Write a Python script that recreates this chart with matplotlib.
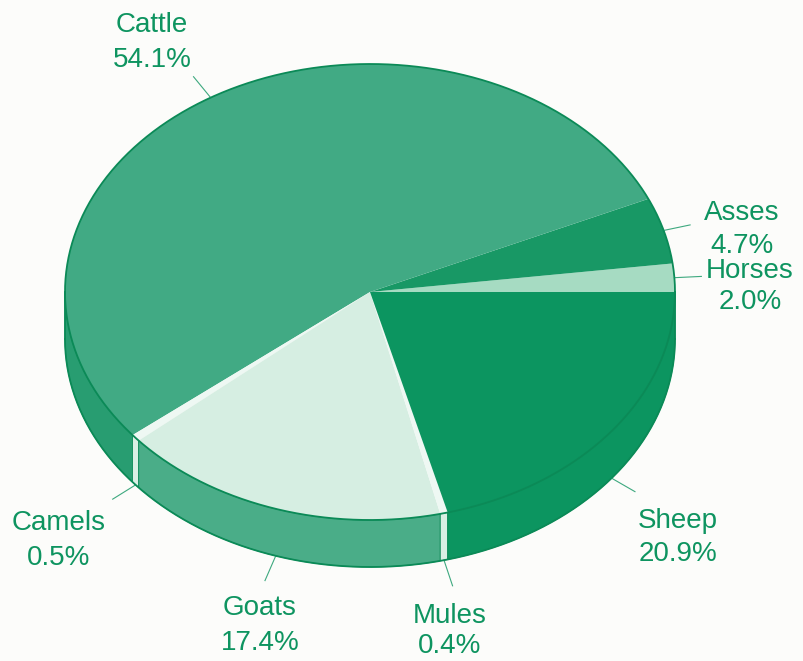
import numpy as np
import matplotlib.pyplot as plt
from matplotlib.patches import Polygon

# ---- data (counter-clockwise from 3 o'clock) ----
labels = ["Horses", "Asses", "Cattle", "Camels", "Goats", "Mules", "Sheep"]
shares = [2.0, 4.7, 54.1, 0.5, 17.4, 0.4, 20.9]

# ---- styles ----
top_colors = {"Horses": "#a6dbc2", "Asses": "#189865", "Cattle": "#41aa84",
              "Camels": "#eef8f3", "Goats": "#d6eee2", "Mules": "#eef8f3",
              "Sheep": "#0c9560"}
side_colors = {"Horses": "#8ccfb1", "Asses": "#168f5e", "Cattle": "#289d71",
               "Camels": "#d9efe4", "Goats": "#4aad88", "Mules": "#d9efe4",
               "Sheep": "#0c9560"}
GREEN = "#0e9460"
LINE = "#0b8a57"

# ---- layout (pixels) ----
W, H = 804, 661
CX, CY, RX, RY, DEPTH = 370, 292, 305, 228, 47
LEAD = 27
# label layout: centre x, baseline of name, baseline of percentage
label_pos = {"Cattle": (152, 32, 67), "Asses": (742, 220, 253),
             "Horses": (750, 278, 309), "Sheep": (678, 528, 561),
             "Mules": (450, 623, 653), "Goats": (260, 615, 650),
             "Camels": (59, 530, 565)}

fig = plt.figure(figsize=(W / 100, H / 100), dpi=100)
fig.patch.set_facecolor("#fcfcfa")
ax = fig.add_axes([0, 0, 1, 1])
ax.set_xlim(-CX / RX, (W - CX) / RX)
ax.set_ylim(-(H - CY) / RX, CY / RX)
ax.axis("off")

tilt = RY / RX
depth = DEPTH / RX


def px(x, y):
    return (x - CX) / RX, (CY - y) / RX


def arc(a0, a1, dy=0.0, n=200):
    t = np.radians(np.linspace(a0, a1, n))
    return np.column_stack([np.cos(t), tilt * np.sin(t) + dy])


edges = np.concatenate([[0], np.cumsum(shares)]) / sum(shares) * 360.0

# side walls (front half: 180..360 deg)
for lab, a0, a1 in zip(labels, edges[:-1], edges[1:]):
    s0, s1 = max(a0, 180.0), min(a1, 360.0)
    if s1 > s0:
        pts = np.vstack([arc(s0, s1), arc(s1, s0, -depth)])
        ax.add_patch(Polygon(pts, closed=True, facecolor=side_colors[lab],
                             edgecolor=LINE, linewidth=0.6, zorder=1))

# top surface
for lab, a0, a1 in zip(labels, edges[:-1], edges[1:]):
    pts = np.vstack([[0, 0], arc(a0, a1)])
    ax.add_patch(Polygon(pts, closed=True, facecolor=top_colors[lab],
                         edgecolor="none", linewidth=0, zorder=2))

# outline
top = arc(0, 360, n=600)
ax.plot(top[:, 0], top[:, 1], color=LINE, lw=1.3, zorder=3)
bot = arc(180, 360, -depth, n=300)
ax.plot(bot[:, 0], bot[:, 1], color=LINE, lw=1.3, zorder=3)
ax.plot([-1, -1], [0, -depth], color=LINE, lw=1.3, zorder=3)
ax.plot([1, 1], [0, -depth], color=LINE, lw=1.3, zorder=3)

# labels and leader lines
for lab, v, a0, a1 in zip(labels, shares, edges[:-1], edges[1:]):
    m = np.radians((a0 + a1) / 2)
    x0, y0 = np.cos(m), tilt * np.sin(m)
    if np.sin(m) < 0:
        y0 -= depth
    d = np.array([np.cos(m), tilt * np.sin(m)])
    d = d / np.hypot(*d) * LEAD / RX
    ax.plot([x0, x0 + d[0]], [y0, y0 + d[1]], color=GREEN, lw=0.8,
            alpha=0.8, zorder=3)
    cx, b1, b2 = label_pos[lab]
    for txt, by in ((lab, b1), (f"{v:.1f}%", b2)):
        tx, ty = px(cx, by)
        ax.text(tx, ty, txt, ha="center", va="baseline", fontsize=20,
                family="Liberation Sans", color=GREEN, zorder=4)

fig.savefig("out.png", dpi=100, facecolor=fig.get_facecolor())
